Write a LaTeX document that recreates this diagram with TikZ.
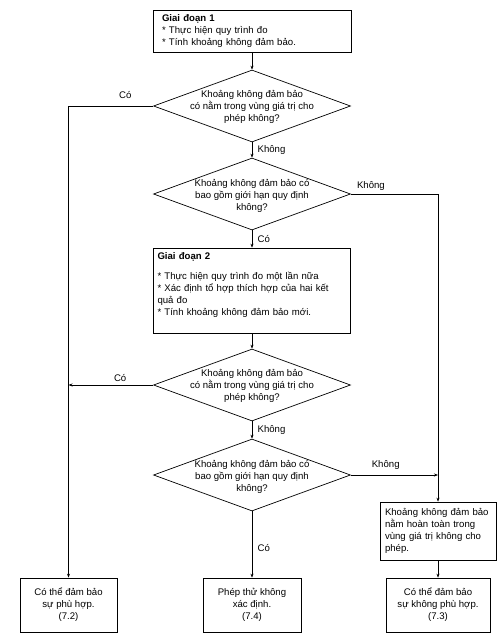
\documentclass[tikz,border=0pt]{standalone}
\usepackage{fontspec}
\setmainfont{Liberation Sans}
\usetikzlibrary{shapes.geometric,arrows.meta}

\begin{document}
\begin{tikzpicture}[x=1pt,y=-1pt,
	>={Stealth[length=4pt,width=3pt]},
	every node/.style={font=\fontsize{9.6}{12}\selectfont},
	box/.style={draw,line width=0.7pt,rectangle},
	stage/.style={box,align=left,inner ysep=3pt},
	result/.style={box,align=center,inner sep=0pt,minimum height=54pt},
	decision/.style={draw,line width=0.7pt,diamond,aspect=2.736,align=center,minimum width=197pt,minimum height=72pt,inner sep=-10pt},
	flow/.style={line width=0.6pt,->}]
	\useasboundingbox (0,0) rectangle (501,637);

	% stage 1
	\node[stage,text width=180pt,inner xsep=9pt,minimum height=42pt] (st1) at (252,31)
		{\textbf{Giai đoạn 1}\\{}* Thực hiện quy trình đo\\{}* Tính khoảng không đảm bảo.};
	% first check
	\node[decision] (d1) at (252,106) {\mbox{}\\[-4pt]Khoảng không đảm bảo\\có nằm trong vùng giá trị cho\\phép không?};
	\node[decision] (d2) at (252,194) {\mbox{}\\[-1pt]Khoảng không đảm bảo có\\bao gồm giới hạn quy định\\không?};

	% stage 2
	\node[stage,text width=189pt,inner xsep=4pt,minimum height=85pt] (st2) at (252,290.5)
		{\textbf{Giai đoạn 2}\\[8pt]{}* Thực hiện quy trình đo một lần nữa\\{}* Xác định tổ hợp thích hợp của hai kết\\quả đo\\{}* Tính khoảng không đảm bảo mới.\\\mbox{}};
	% second check
	\node[decision] (d3) at (252,385) {\mbox{}\\[-4pt]Khoảng không đảm bảo\\có nằm trong vùng giá trị cho\\phép không?};
	\node[decision] (d4) at (252,475) {\mbox{}\\[-1pt]Khoảng không đảm bảo có\\bao gồm giới hạn quy định\\không?};

	% outcomes
	\node[stage,text width=106pt,inner xsep=5pt,minimum height=58pt] (b3) at (438,531)
		{Khoảng không đảm bảo\\nằm hoàn toàn trong\\vùng giá trị không cho\\phép.};
	\node[result,minimum width=97pt] (r1) at (68.5,605) {Có thể đảm bảo\\sự phù hợp.\\(7.2)};
	\node[result,minimum width=98pt] (r2) at (252,605) {Phép thử không\\xác định.\\(7.4)};
	\node[result,minimum width=104pt] (r3) at (438,605) {Có thể đảm bảo\\sự không phù hợp.\\(7.3)};

	% middle column
	\draw[flow] (st1.south) -- (d1.north);
	\draw[flow] (d1.south) -- node[right,xshift=2pt]{Không} (d2.north);
	\draw[flow] (d2.south) -- node[right,xshift=2pt]{Có} (st2.north);
	\draw[flow] (st2.south) -- (d3.north);
	\draw[flow] (d3.south) -- node[right,xshift=2pt]{Không} (d4.north);
	\draw[flow] (d4.south) -- node[right,xshift=2pt,pos=.55]{Có} (r2.north);

	% left side
	\draw[flow] (d1.west) -- node[above=4pt,pos=.33]{Có} (d1.west -| r1.north) -- (r1.north);
	\draw[flow] (d3.west) -- node[above,pos=.39]{Có} (d3.west -| r1.north);

	% right side
	\draw[flow] (d2.east) -- node[above,pos=.23]{Không} (d2.east -| b3.north) -- (b3.north);
	\draw[flow] (d4.east) -- node[above=2pt,pos=.4]{Không} (d4.east -| b3.north);
	\draw[flow] (b3.south) -- (r3.north);
\end{tikzpicture}
\end{document}
